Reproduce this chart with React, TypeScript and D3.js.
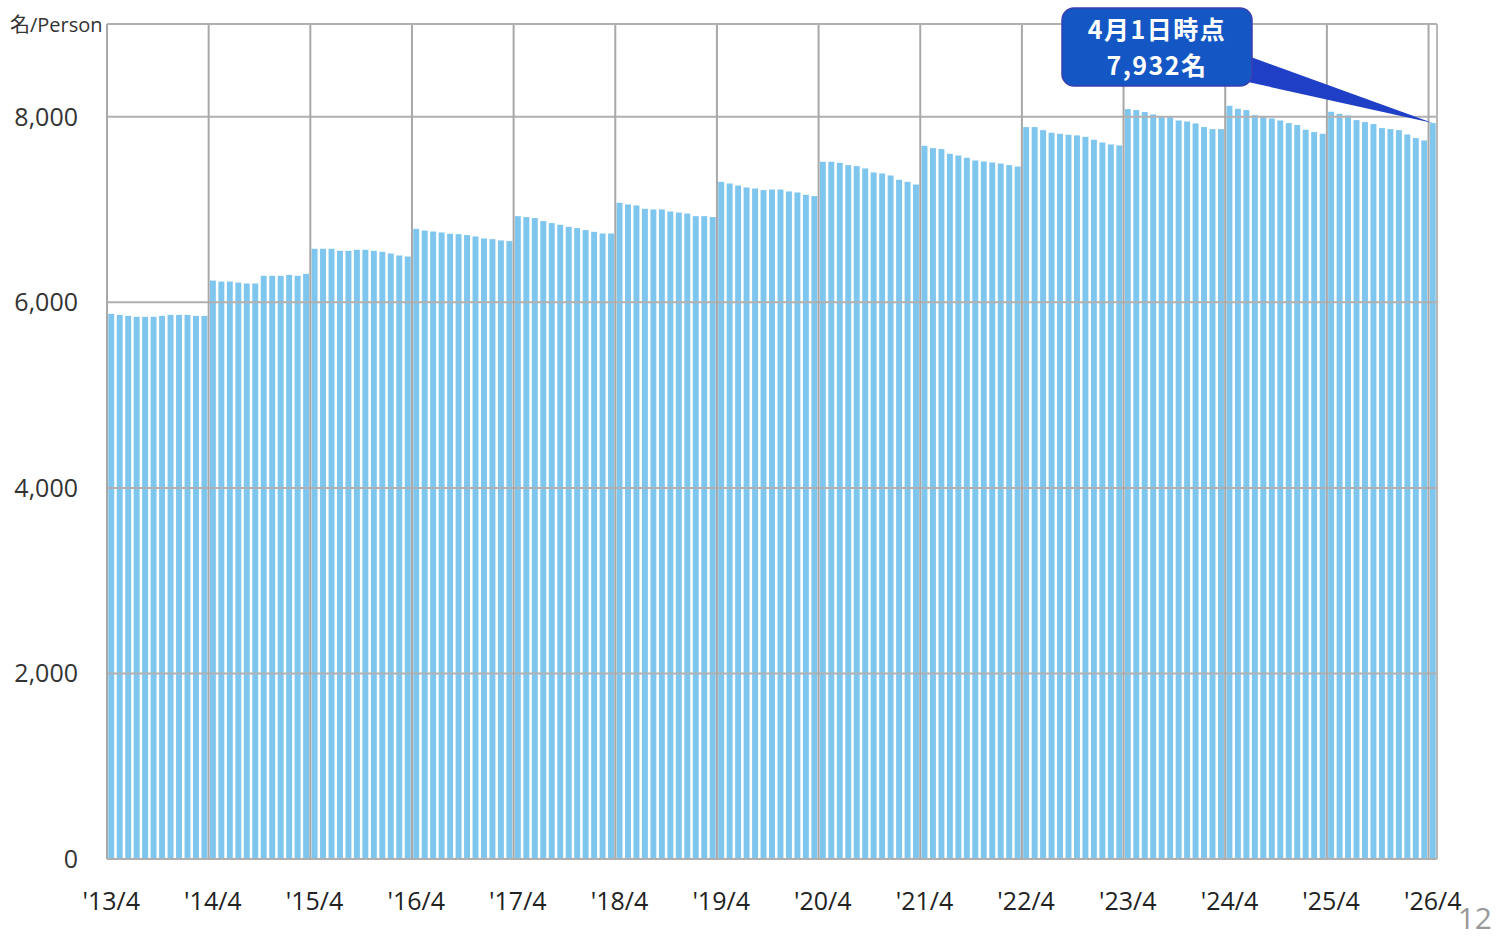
import * as d3 from "d3"
import React from "react"

// monthly headcount, April through March of each fiscal year
const fy2013 = [5876, 5865, 5854, 5844, 5844, 5844, 5854, 5865, 5865, 5865, 5854, 5854]
const fy2014 = [6235, 6224, 6224, 6213, 6203, 6203, 6286, 6286, 6286, 6296, 6286, 6307]
const fy2015 = [6577, 6577, 6577, 6555, 6555, 6566, 6566, 6555, 6544, 6526, 6505, 6494]
const fy2016 = [6792, 6774, 6763, 6753, 6739, 6735, 6725, 6710, 6688, 6681, 6667, 6660]
const fy2017 = [6929, 6919, 6908, 6876, 6854, 6836, 6814, 6800, 6779, 6760, 6742, 6742]
const fy2018 = [7073, 7055, 7044, 7008, 7001, 7001, 6979, 6968, 6957, 6929, 6929, 6919]
const fy2019 = [7299, 7281, 7259, 7238, 7227, 7210, 7216, 7216, 7195, 7184, 7159, 7145]
const fy2020 = [7515, 7515, 7504, 7479, 7468, 7443, 7400, 7389, 7367, 7321, 7299, 7270]
const fy2021 = [7687, 7662, 7652, 7601, 7583, 7558, 7529, 7518, 7507, 7496, 7479, 7464]
const fy2022 = [7889, 7889, 7856, 7828, 7817, 7806, 7799, 7784, 7752, 7723, 7702, 7691]
const fy2023 = [8083, 8072, 8051, 8025, 8000, 8000, 7960, 7949, 7928, 7889, 7867, 7867]
const fy2024 = [8119, 8086, 8072, 8018, 7997, 7982, 7960, 7932, 7911, 7860, 7835, 7817]
const fy2025 = [8054, 8032, 8014, 7964, 7943, 7921, 7878, 7867, 7856, 7809, 7770, 7745]
const fy2026 = [7932]

const yearLabels = ["'13/4", "'14/4", "'15/4", "'16/4", "'17/4", "'18/4", "'19/4", "'20/4", "'21/4", "'22/4", "'23/4", "'24/4", "'25/4", "'26/4"]
const yTicks = [0, 2000, 4000, 6000, 8000]
const calloutLines = ["4月1日時点", "7,932名"]

const values = [].concat(fy2013, fy2014, fy2015, fy2016, fy2017, fy2018, fy2019, fy2020, fy2021, fy2022, fy2023, fy2024, fy2025, fy2026) as number[]

export default function App() {
  const W = 1500, H = 937
  const left = 107, right = 1437, top = 24, bottom = 859
  const font = "'Open Sans', 'Noto Sans CJK JP', sans-serif"

  const x = d3.scaleBand<number>().domain(d3.range(values.length)).range([left, right]).paddingInner(0.3).paddingOuter(0.15)
  const y = d3.scaleLinear().domain([0, 9000]).range([bottom, top])
  const step = x.step()
  const bandStart = (i: number) => x(i)! - step * 0.15
  const fmt = d3.format(",")

  const last = values.length - 1
  const tipX = x(last)! + x.bandwidth() / 2
  const tipY = y(values[last])

  const box = { x: 1062, y: 8, w: 190, h: 78 }

  return (
    <svg width={W} height={H} style={{ position: "absolute", left: 0, top: 0, background: "#fff" }}>
      {/* bars */}
      {values.map((v, i) => (
        <rect key={i} x={x(i)} y={y(v)} width={x.bandwidth()} height={bottom - y(v)} fill="#7fc6ee" />
      ))}
      {/* horizontal grid */}
      {yTicks.map(t => (
        <g key={t}>
          <line x1={left} x2={right} y1={y(t)} y2={y(t)} stroke="#b0b0b0" strokeWidth={2} />
          <text x={78} y={y(t) + 9} textAnchor="end" fontSize={25} fill="#333" fontFamily={font}>{fmt(t)}</text>
        </g>
      ))}
      {/* vertical year grid */}
      {yearLabels.map((lab, k) => {
        const i = k * 12
        const gx = bandStart(i)
        return (
          <g key={lab}>
            <line x1={gx} x2={gx} y1={top} y2={bottom} stroke="#a8a8a8" strokeWidth={2} />
            <text x={x(i)! + x.bandwidth() / 2} y={910} textAnchor="middle" fontSize={25} fill="#222" fontFamily={font}>{lab}</text>
          </g>
        )
      })}
      <line x1={left} x2={right} y1={top} y2={top} stroke="#b0b0b0" strokeWidth={2} />
      <line x1={right} x2={right} y1={top} y2={bottom} stroke="#b8b8b8" strokeWidth={2} />
      <text x={10} y={32} fontSize={20} fill="#333" fontFamily={font}>名/Person</text>
      {/* callout */}
      <path d={`M${box.x + box.w - 4},${box.y + 48} L${tipX},${tipY} L${box.x + box.w - 4},${box.y + 74} Z`} fill="#1f3fc6" />
      <rect x={box.x} y={box.y} width={box.w} height={box.h} rx={12} fill="#1457c4" stroke="#3b3fb0" strokeWidth={1.5} />
      {calloutLines.map((t, i) => (
        <text key={t} x={box.x + box.w / 2} y={box.y + 31 + i * 36} textAnchor="middle" fontSize={25} fontWeight="bold" fill="#fff" fontFamily="'Noto Sans CJK JP', sans-serif" letterSpacing={1.5}>{t}</text>
      ))}
      <text x={1492} y={929} textAnchor="end" fontSize={30} fill="#999" fontFamily={font}>12</text>
    </svg>
  )
}
